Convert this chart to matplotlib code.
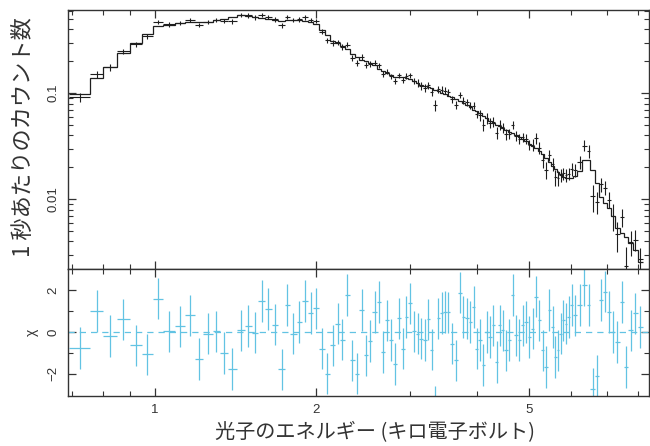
import numpy as np
import matplotlib
matplotlib.use("Agg")
import matplotlib.pyplot as plt
from matplotlib.ticker import FixedLocator, FixedFormatter, LogLocator, NullFormatter

plt.rcParams['font.family'] = ['Liberation Sans', 'Noto Sans CJK JP']

# bin edges in keV
edges_kev = [0.69, 0.756, 0.800, 0.848, 0.898, 0.944, 0.993, 1.036, 1.090, 1.138,
             1.188, 1.231, 1.282, 1.323, 1.371, 1.421, 1.473, 1.516, 1.560, 1.606,
             1.652, 1.701, 1.750, 1.788, 1.840, 1.880, 1.934, 1.976, 2.028, 2.079,
             2.124,
             2.173, 2.218, 2.265, 2.314, 2.361, 2.408, 2.460, 2.504, 2.550, 2.602,
             2.649, 2.691, 2.734, 2.783, 2.836, 2.884, 2.929, 2.975, 3.023, 3.071,
             3.122, 3.173, 3.220, 3.266, 3.313, 3.362, 3.410, 3.459, 3.510, 3.560,
             3.619, 3.685, 3.744, 3.797, 3.858, 3.918, 3.969, 4.020, 4.080, 4.138,
             4.198, 4.259, 4.320, 4.382, 4.439, 4.496, 4.563, 4.628, 4.694, 4.764,
             4.832, 4.901, 4.973, 5.044, 5.117, 5.192, 5.267, 5.342, 5.420, 5.498,
             5.569, 5.636, 5.702, 5.763, 5.831, 5.894, 5.965, 6.051, 6.153, 6.287,
             6.410, 6.516, 6.635, 6.765, 6.886, 6.987, 7.112, 7.251, 7.383, 7.522,
             7.669, 7.818, 7.978, 8.151]

# model count rate per bin (counts/s/keV)
model_rate = [0.0989, 0.140, 0.178, 0.241, 0.299, 0.364, 0.434, 0.445, 0.457, 0.471,
              0.471, 0.475, 0.493, 0.504, 0.519, 0.542, 0.536, 0.519, 0.508, 0.498,
              0.491, 0.483, 0.489, 0.492, 0.488, 0.483, 0.473, 0.453, 0.398, 0.352,
              0.313, 0.296, 0.278, 0.260, 0.236, 0.221, 0.207, 0.200, 0.195, 0.184,
              0.170, 0.161, 0.155, 0.148, 0.143, 0.142, 0.141, 0.140, 0.136, 0.130,
              0.126, 0.120, 0.116, 0.114, 0.111, 0.108, 0.104, 0.101, 0.098, 0.0947,
              0.0917, 0.0877, 0.0840, 0.0805, 0.0779, 0.0738, 0.0699, 0.0676, 0.0648, 0.0613,
              0.0581, 0.0544, 0.0521, 0.0504, 0.0488, 0.0473, 0.0453, 0.0434, 0.0420, 0.0402,
              0.0389, 0.0372, 0.0352, 0.0334, 0.0320, 0.0303, 0.0284, 0.0266, 0.0247, 0.0226,
              0.0207, 0.0194, 0.0182, 0.0172, 0.0163, 0.0160, 0.0158, 0.0160, 0.0167, 0.0186,
              0.0236, 0.0236, 0.0190, 0.0143, 0.0106, 0.00927, 0.00832, 0.00699, 0.00538, 0.00483,
              0.00443, 0.00389, 0.00334, 0.00257]

# residuals (data - model) / error
chi = [-0.76, 1.0, -0.2, 0.6, -0.65, -1.08, 1.6, 0.03, 0.27, 0.8,
       -1.3, -0.08, 0.03, -1.0, -1.77, 0.08, 0.3, -0.03, 1.5, 1.1,
       0.35, -1.8, 1.3, -0.08, 0.47, 1.5, 0.9, 1.13, -0.8, -2.0,
       -0.65, 0.4, -0.37, 1.77, -1.37, -2.0, 1.05, -1.13, -0.44, 0.97,
       1.45, -0.97, 0.56, -0.4, -1.53, 0.65, -0.8, 0.73, 1.37, 0.03,
       -0.08, -0.32, -0.4, 0.6, -0.85, -3.6, 0.65, 0.92, 0.97, 0.94,
       -0.56, -1.37, 1.89, 0.73, 0.65, 0.48, 1.2, -0.8, -0.4, -1.6,
       0.0, -0.24, 0.32, -1.45, 0.32, 0.08, -0.89, -0.4, 1.77, -0.16,
       -0.4, 0.32, 0.48, -0.24, 0.16, 1.7, 0.56, -0.89, -1.69, 1.05,
       0.24, -1.2, -0.89, -0.08, 0.56, 0.4, 0.73, 1.29, 0.8, 1.29,
       2.26, 1.29, -2.74, -2.1, 1.53, 1.94, 0.97, 0.0, -0.48, 1.45,
       -1.69, 0.08, 0.89, 0.24]

# relative 1-sigma error of each bin
rel_err = [0.09, 0.08, 0.07, 0.06, 0.055, 0.05, 0.05, 0.045, 0.045, 0.045,
           0.045, 0.045, 0.045, 0.045, 0.045, 0.045, 0.05, 0.05, 0.05, 0.05,
           0.05, 0.05, 0.05, 0.05, 0.05, 0.05, 0.05, 0.05, 0.05, 0.05,
           0.06, 0.06, 0.06, 0.06, 0.06, 0.06, 0.06, 0.06, 0.06, 0.06,
           0.06, 0.06, 0.06, 0.06, 0.06, 0.06, 0.06, 0.06, 0.06, 0.06,
           0.08, 0.08, 0.08, 0.08, 0.08, 0.08, 0.08, 0.08, 0.08, 0.08,
           0.08, 0.08, 0.08, 0.08, 0.08, 0.08, 0.08, 0.08, 0.11, 0.11,
           0.11, 0.11, 0.11, 0.11, 0.11, 0.11, 0.11, 0.11, 0.11, 0.11,
           0.11, 0.11, 0.11, 0.11, 0.14, 0.14, 0.14, 0.14, 0.14, 0.14,
           0.14, 0.14, 0.14, 0.14, 0.14, 0.14, 0.14, 0.16, 0.16, 0.16,
           0.16, 0.16, 0.16, 0.16, 0.2, 0.2, 0.2, 0.28, 0.28, 0.28,
           0.28, 0.28, 0.28, 0.28]

assert len(edges_kev) - 1 == len(model_rate) == len(chi) == len(rel_err)

edges = np.array(edges_kev)
centre = 0.5 * (edges[:-1] + edges[1:])
halfw = 0.5 * np.diff(edges)
model = np.array(model_rate)
err = model * np.array(rel_err)
data = model + np.array(chi) * err

ink = '#1e1e1e'
cyan = '#62c3e3'

fig = plt.figure(figsize=(6.5, 4.46), dpi=100)
ax1 = fig.add_axes([0.1046, 0.3969, 0.8938, 0.5807])
ax2 = fig.add_axes([0.1046, 0.1121, 0.8938, 0.2848], sharex=ax1)

# top: spectrum
ax1.stairs(model, edges, color=ink, lw=0.9, baseline=None)
ax1.errorbar(centre, data, xerr=halfw, yerr=err, fmt='none', ecolor=ink, elinewidth=0.8, capsize=0)
ax1.set_xscale('log')
ax1.set_yscale('log')
ax1.set_xlim(0.688, 8.38)
ax1.set_ylim(0.0022, 0.61)
ax1.yaxis.set_major_locator(FixedLocator([0.01, 0.1]))
ax1.yaxis.set_major_formatter(FixedFormatter(['0.01', '0.1']))
ax1.yaxis.set_minor_locator(LogLocator(subs=np.arange(2, 10)))
ax1.yaxis.set_minor_formatter(NullFormatter())

# bottom: residuals
ax2.axhline(0, color=cyan, lw=0.9, ls=(0, (5, 4)))
ax2.errorbar(centre, chi, xerr=halfw, yerr=1.0, fmt='none', ecolor=cyan, elinewidth=0.9, capsize=0)
ax2.set_ylim(-3.08, 3.03)
ax2.yaxis.set_major_locator(FixedLocator([-2, 0, 2]))
ax2.yaxis.set_major_formatter(FixedFormatter(['\u22122', '0', '2']))
ax2.yaxis.set_minor_locator(FixedLocator([-1, 1]))
ax2.xaxis.set_major_locator(FixedLocator([1, 2, 5]))
ax2.xaxis.set_major_formatter(FixedFormatter(['1', '2', '5']))
ax2.xaxis.set_minor_locator(FixedLocator([0.7, 0.8, 0.9, 3, 4, 6, 7, 8]))
ax2.xaxis.set_minor_formatter(NullFormatter())

for ax in (ax1, ax2):
    ax.tick_params(which='both', direction='in', top=True, right=True, colors='#333333',
                   labelcolor='#333333', labelsize=9.5, pad=6)
    ax.tick_params(which='major', length=6, width=0.9)
    ax.tick_params(which='minor', length=3.5, width=0.8)
    ax.tick_params(axis='y', labelrotation=90)
    for s in ax.spines.values():
        s.set_color('#333333')
        s.set_linewidth(1.0)
    for lab in ax.get_yticklabels():
        lab.set_va('center')
ax1.tick_params(labelbottom=False)

fig.text(0.0354, 0.693, '1 秒あたりのカウント数', rotation=90, ha='center', va='center',
         fontsize=16, family=['Noto Sans CJK JP'], color='#333333')
fig.text(0.049, 0.2556, 'χ', rotation=90, ha='center', va='center', fontsize=10, color='#333333')
fig.text(0.577, 0.03, '光子のエネルギー (キロ電子ボルト)', ha='center', va='center',
         fontsize=14.5, family=['Noto Sans CJK JP'], color='#333333')

fig.savefig('out.png', dpi=100)
